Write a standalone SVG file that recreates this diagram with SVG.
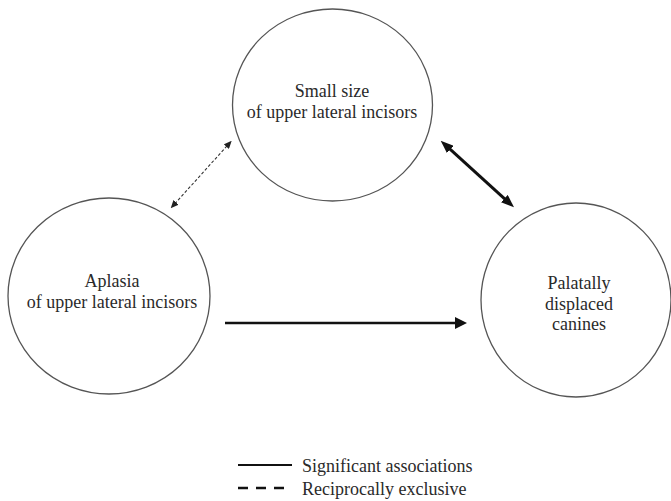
<svg xmlns="http://www.w3.org/2000/svg" width="671" height="501" viewBox="0 0 671 501">
<style>
.node{fill:none;stroke:#555;stroke-width:1.3}
text{font-family:'Liberation Serif','Times New Roman',Times,'DejaVu Serif',serif;font-size:18px;fill:#2a2a2a}
.lbl{text-anchor:middle}
.solid{stroke:#111;fill:none}
.dash{stroke:#333;fill:none;stroke-width:1.1;stroke-dasharray:3 2}
</style>
<defs>
<marker id="ahBig" markerUnits="userSpaceOnUse" markerWidth="13" markerHeight="10" refX="3" refY="5" orient="auto-start-reverse">
<path d="M0,0 L13,5 L0,10 z" fill="#111"/>
</marker>
<marker id="ahMid" markerUnits="userSpaceOnUse" markerWidth="12" markerHeight="12" refX="2" refY="6" orient="auto-start-reverse">
<path d="M0,0 L12,6 L0,12 z" fill="#111"/>
</marker>
<marker id="ahSmall" markerUnits="userSpaceOnUse" markerWidth="8" markerHeight="7" refX="1" refY="3.5" orient="auto-start-reverse">
<path d="M0,0 L8,3.5 L0,7 z" fill="#222"/>
</marker>
</defs>
<rect width="671" height="501" fill="#fff"/>
<g id="node-small-size">
<ellipse class="node" cx="332.5" cy="105" rx="100" ry="96"/>
<text class="lbl" x="332" y="97" font-family="Liberation Serif, serif">Small size</text>
<text class="lbl" x="332" y="118" font-family="Liberation Serif, serif">of upper lateral incisors</text>
</g>
<g id="node-aplasia">
<ellipse class="node" cx="109" cy="296" rx="101" ry="98"/>
<text class="lbl" x="112" y="287" font-family="Liberation Serif, serif">Aplasia</text>
<text class="lbl" x="112" y="308" font-family="Liberation Serif, serif">of upper lateral incisors</text>
</g>
<g id="node-canines">
<ellipse class="node" cx="576" cy="300" rx="95" ry="97"/>
<text class="lbl" x="579" y="289" font-family="Liberation Serif, serif">Palatally</text>
<text class="lbl" x="579" y="310" font-family="Liberation Serif, serif">displaced</text>
<text class="lbl" x="579" y="330" font-family="Liberation Serif, serif">canines</text>
</g>
<g id="connectors">
<path class="solid" d="M448.1,147.4 L506.6,200.6" stroke-width="3" marker-start="url(#ahBig)" marker-end="url(#ahBig)"/>
<path class="solid" d="M225,323 L457,323" stroke-width="2.5" marker-end="url(#ahMid)"/>
<path class="dash" d="M227,145.9 L175.4,203.1" marker-start="url(#ahSmall)" marker-end="url(#ahSmall)"/>
</g>
<g id="legend">
<line class="solid" x1="238" y1="465" x2="292" y2="465" stroke-width="2"/>
<text x="302" y="472" font-family="Liberation Serif, serif">Significant associations</text>
<line class="solid" x1="238" y1="488" x2="292" y2="488" stroke-width="2.5" stroke-dasharray="10 8"/>
<text x="302" y="495" font-family="Liberation Serif, serif">Reciprocally exclusive</text>
</g>
</svg>
